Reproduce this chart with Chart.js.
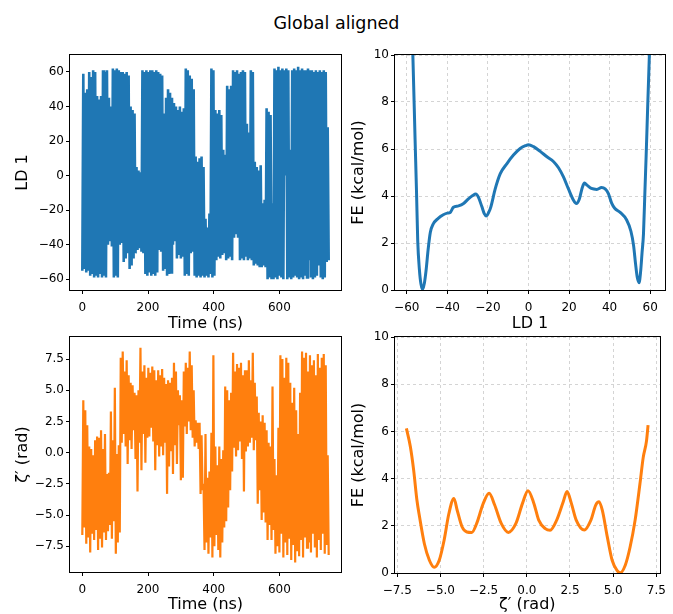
<!DOCTYPE html>
<html>
<head>
<meta charset="utf-8">
<title>Global aligned</title>
<script src="https://cdn.jsdelivr.net/npm/chart.js@4.4.1/dist/chart.umd.min.js"></script>
<style>
  body { margin: 0; background: #fff; }
  #fig { position: relative; width: 673px; height: 614px; overflow: hidden; background: #fff; }
  #title { position: absolute; left: 0; top: 13px; width: 673px; text-align: center;
           font: 17.5px 'DejaVu Sans', sans-serif; color: #000; }
  canvas { position: absolute; }
</style>
</head>
<body>
<div id="fig">
  <div id="title">Global aligned</div>
  <canvas id="ldTrace" width="345" height="300" style="left:0px;top:40px"></canvas>
  <canvas id="ldFe" width="333" height="300" style="left:340px;top:40px"></canvas>
  <canvas id="zetaTrace" width="345" height="294" style="left:0px;top:320px"></canvas>
  <canvas id="zetaFe" width="333" height="294" style="left:340px;top:320px"></canvas>
</div>
<script>
// sampling interval of the trajectories (ns)
var timeStep = 3;

// LD 1 along the trajectory, one value per frame
var ld1Trace = [
  -55, 59, -54, 48, -56, 50, -55, 60, -58, 57,
  -57, 61, -59, 60, -58, 46, -59, 44, -57, 46,
  -59, 61, -58, 60, -59, 61, -40, 45, -38, 40,
  -41, 62, -59, 61, -58, 62, -59, 61, -40, 60,
  -39, 60, -50, 59, -48, 60, -45, 58, -54, 40,
  -52, 38, -48, 36, -45, 5, -43, 3, -42, 2,
  -44, 61, -45, 60, -57, 61, -58, 60, -56, 61,
  -58, 61, -57, 60, -58, 61, -56, 60, -43, 59,
  -44, 58, -55, 36, -54, 45, -58, 50, -57, 48,
  -56, 45, -40, 42, -38, 40, -48, 38, -46, 40,
  -48, 37, -47, 39, -58, 62, -57, 61, -58, 58,
  -45, 56, -44, 50, -58, 11, -59, 8, -58, 10,
  -59, 11, -58, 5, -59, -25, -58, -30, -59, -22,
  -57, 62, -59, 61, -58, 38, -49, 36, -47, 38,
  -48, 35, -46, 15, -45, 12, -49, 52, -48, 50,
  -47, 52, -49, 61, -36, 60, -34, 61, -36, 59,
  -49, 60, -48, 61, -49, 60, -47, 30, -49, 25,
  -48, 61, -49, 60, -52, 8, -51, 5, -52, 3,
  -53, 6, -53, -16, -52, -14, -53, 39, -60, 37,
  -59, 35, -60, -16, -60, 62, -59, 61, -60, 63,
  -58, 61, -59, 62, -60, 61, 0, 62, -60, 61,
  -59, 15, -60, 61, -59, 62, -58, 61, -59, 63,
  -60, 61, -59, 62, -60, 61, -58, 61, -59, 62,
  -49, 61, -59, 61, -60, 60, -59, 61, -58, 60,
  -52, 61, -59, 60, -60, 61, -59, 60, -50, 28,
  -49
];

// zeta' along the trajectory (rad), same frames
var zetaTrace = [
  -6.6, 4.2, -6.0, 3.4, -7.3, 2.2, -6.8, 0.5, -8.0, 0.3,
  -6.5, -0.2, -7.0, 1.0, -6.2, 1.3, -7.8, 1.2, -6.9, 1.8,
  -7.6, 0.3, -6.4, 1.5, -7.0, -1.7, -6.3, -1.6, -5.8, 3.3,
  -6.9, 1.0, -5.5, 5.2, -8.1, -0.1, -7.2, 0.6, -6.4, 7.6,
  0.8, 8.1, 1.5, 6.5, 0.5, 7.4, -0.9, 6.2, 1.0, 5.6,
  0.3, 5.4, 1.8, 4.8, -0.5, 4.6, -3.1, 5.0, 0.8, 8.4,
  -1.4, 6.5, 1.5, 7.0, -0.8, 6.0, 1.2, 6.8, 1.3, 6.4,
  2.0, 6.9, 0.9, 6.6, -1.4, 5.8, 0.6, 6.6, -0.3, 6.2,
  0.5, 6.7, -0.2, 6.0, 0.8, 5.5, -3.3, 5.8, -1.1, 5.6,
  0.2, 6.0, -1.7, 7.2, 0.6, 6.5, -0.9, 5.0, 2.2, 4.6,
  -2.2, 4.2, -2.0, 6.5, 2.1, 7.2, 1.5, 6.8, 2.5, 8.1,
  1.8, 7.0, 1.2, 5.0, 0.5, 2.6, 0.8, 2.4, 0.3, 2.4,
  -3.3, 1.4, -3.0, -2.5, -7.8, 1.5, -7.2, -2.0, -8.1, -1.5,
  -6.8, 1.6, -8.4, 7.8, -7.5, 0.5, -6.6, -1.0, -7.8, 0.5,
  -8.4, -0.5, -7.2, 0.2, -6.0, 5.3, -5.5, 5.0, -4.4, 4.2,
  -3.0, 4.8, -1.5, 8.0, 0.4, 6.5, -0.3, 7.1, 0.2, 6.8,
  0.9, 7.2, -0.5, 6.2, -3.1, 6.6, 0.1, 6.6, 0.5, 7.4,
  0.8, 5.8, 1.2, 8.0, 0.2, 5.6, 1.0, 4.5, -4.1, 3.2,
  -3.0, 2.5, -5.4, 3.0, -4.8, 2.4, -5.6, 1.8, -7.0, 0.8,
  -5.8, 0.5, -7.0, 5.3, -6.2, -0.5, -8.1, -1.8, -7.5, 2.0,
  -8.0, 7.8, -6.5, 7.5, -8.4, 6.0, -7.2, 7.6, -8.2, 7.2,
  -6.9, 5.6, -8.6, 4.0, -7.4, 5.2, -8.8, 3.4, -7.9, 1.5,
  -8.3, 4.8, -7.0, 8.1, -8.4, 7.6, -6.8, 8.0, -7.6, 6.5,
  -7.2, 7.8, -8.0, 7.0, -6.5, 7.4, -7.6, 6.2, -8.4, 7.9,
  -7.0, 6.8, -7.8, 7.6, -6.5, 7.9, -8.1, 7.0, -7.4, -0.2,
  -8.2
];

// free energy profile along LD 1 (kcal/mol)
var feLdX = [-57.8, -57.0, -55.9, -55.2, -54.6, -53.8, -53.0, -52.2, -51.3, -50.4,
  -49.5, -48.4, -47.0, -44.5, -42.0, -40.0, -38.6, -37.0, -34.5, -32.0,
  -29.6, -27.5, -26.0, -24.7, -23.0, -21.8, -20.8, -19.6, -18.5, -16.4,
  -13.9, -10.6, -7.4, -4.1, -1.5, 0.0, 2.5, 5.8, 9.1, 12.4,
  14.8, 17.3, 19.7, 22.2, 23.6, 25.0, 26.5, 27.6, 29.0, 31.0,
  33.7, 36.0, 37.8, 39.4, 41.0, 42.5, 45.2, 48.4, 50.5, 51.8,
  52.8, 53.6, 54.5, 55.3, 56.0, 56.7, 57.4, 58.0, 58.8, 59.6, 60.4];
var feLdY = [12.0, 10.0, 6.4, 4.2, 2.1, 0.9, 0.25, 0.03, 0.3, 0.9,
  1.7, 2.45, 2.8, 3.05, 3.2, 3.27, 3.3, 3.52, 3.58, 3.68,
  3.88, 4.02, 4.08, 3.95, 3.55, 3.25, 3.15, 3.3, 3.55, 4.3,
  4.95, 5.38, 5.74, 6.02, 6.14, 6.18, 6.1, 5.9, 5.67, 5.46,
  5.2, 4.8, 4.3, 3.82, 3.68, 3.85, 4.35, 4.55, 4.45, 4.32,
  4.28, 4.36, 4.3, 4.1, 3.7, 3.48, 3.3, 2.98, 2.5, 1.9,
  1.1, 0.55, 0.31, 0.8, 1.6, 2.4, 4.2, 5.7, 7.9, 10.0, 12.2];

// free energy profile along zeta' (kcal/mol)
var feZetaX = [-6.97, -6.74, -6.55, -6.36, -6.21, -5.93, -5.64, -5.36, -5.07, -4.79,
  -4.51, -4.22, -4.03, -3.75, -3.47, -3.18, -2.9, -2.52, -2.18, -1.86,
  -1.48, -1.07, -0.63, -0.25, 0.07, 0.41, 0.69, 1.07, 1.35, 1.73,
  2.11, 2.33, 2.58, 2.86, 3.33, 3.71, 3.99, 4.18, 4.37, 4.66,
  4.94, 5.22, 5.41, 5.7, 5.98, 6.27, 6.55, 6.74, 6.93, 7.02];
var feZetaY = [6.13, 5.35, 4.36, 3.08, 2.38, 1.24, 0.54, 0.24, 0.54, 1.38,
  2.52, 3.16, 2.66, 1.96, 1.74, 1.72, 2.10, 2.95, 3.38, 2.88,
  2.10, 1.72, 2.10, 2.95, 3.49, 2.95, 2.24, 1.88, 1.81, 2.24,
  3.02, 3.45, 2.95, 2.24, 1.82, 2.24, 2.88, 3.02, 2.66, 1.53,
  0.54, 0.11, 0.01, 0.33, 1.1, 2.24, 3.78, 4.9, 5.6, 6.27];

// tick positions
var timeTicks = [0, 200, 400, 600];
var ldTicks = [-60, -40, -20, 0, 20, 40, 60];
var zetaTicks = [-7.5, -5.0, -2.5, 0.0, 2.5, 5.0, 7.5];
var feTicks = [0, 2, 4, 6, 8, 10];

var FONT = "'DejaVu Sans', sans-serif";
var blue = '#1f77b4';
var orange = '#ff7f0e';

function minus(s) { return String(s).replace('-', '\u2212'); }
function fmtInt(v) { return minus(v); }
function fmtOne(v) { return minus(v.toFixed(1)); }

// box frame round the plotting area
var frame = {
  id: 'frame',
  afterDatasetsDraw: function (chart) {
    var a = chart.chartArea, ctx = chart.ctx;
    ctx.save();
    ctx.strokeStyle = '#000';
    ctx.lineWidth = 1;
    ctx.strokeRect(Math.round(a.left) - 0.5, Math.round(a.top) - 0.5,
      Math.round(a.right - a.left) + 1, Math.round(a.bottom - a.top) + 1);
    ctx.restore();
  }
};

function axis(o) {
  var left = o.pos === 'left';
  return {
    type: 'linear',
    position: o.pos,
    min: o.min,
    max: o.max,
    afterBuildTicks: function (s) { s.ticks = o.ticks.map(function (v) { return { value: v }; }); },
    afterFit: function (s) { if (left) s.width = o.size; else s.height = o.size; },
    ticks: {
      callback: o.fmt,
      font: { family: FONT, size: 12 },
      color: '#000',
      padding: left ? 2 : 7,
      autoSkip: false,
      maxRotation: 0
    },
    grid: {
      display: true,
      drawOnChartArea: !!o.grid,
      color: 'rgba(176,176,176,0.55)',
      lineWidth: 1,
      tickColor: '#000',
      tickLength: 4,
      tickWidth: 1
    },
    border: { display: false, dash: o.grid ? [3, 3] : [] },
    title: {
      display: true,
      text: o.label,
      font: { family: FONT, size: 16 },
      color: '#000',
      padding: left ? { top: o.titlePad, bottom: 0 } : { top: 0, bottom: o.titlePad }
    }
  };
}

function makeChart(id, points, color, width, smooth, pad, xAxis, yAxis) {
  return new Chart(document.getElementById(id), {
    type: 'line',
    data: {
      datasets: [{
        data: points,
        borderColor: color,
        borderWidth: width,
        pointRadius: 0,
        fill: false,
        tension: smooth ? 0.4 : 0,
        cubicInterpolationMode: smooth ? 'monotone' : 'default'
      }]
    },
    options: {
      responsive: false,
      animation: false,
      devicePixelRatio: 1,
      layout: { padding: pad },
      plugins: { legend: { display: false }, tooltip: { enabled: false } },
      scales: { x: xAxis, y: yAxis }
    },
    plugins: [frame]
  });
}

function tracePoints(values) {
  return values.map(function (v, i) { return { x: i * timeStep, y: v }; });
}
function profilePoints(xs, ys) {
  return xs.map(function (x, i) { return { x: x, y: ys[i] }; });
}

makeChart('ldTrace', tracePoints(ld1Trace), blue, 2.6, false,
  { left: 0, top: 15, right: 4, bottom: 0 },
  axis({ pos: 'bottom', min: -37.5, max: 787.5, ticks: timeTicks, fmt: fmtInt, size: 50, label: 'Time (ns)', titlePad: 7 }),
  axis({ pos: 'left', min: -66.2, max: 69.8, ticks: ldTicks, fmt: fmtInt, size: 70, label: 'LD 1', titlePad: 13 }));

makeChart('ldFe', profilePoints(feLdX, feLdY), blue, 3, true,
  { left: 0, top: 15, right: 8, bottom: 0 },
  axis({ pos: 'bottom', min: -65.8, max: 67.3, ticks: ldTicks, fmt: fmtInt, size: 50, label: 'LD 1', titlePad: 7, grid: true }),
  axis({ pos: 'left', min: 0, max: 10, ticks: feTicks, fmt: fmtInt, size: 55, label: 'FE (kcal/mol)', titlePad: 9, grid: true }));

makeChart('zetaTrace', tracePoints(zetaTrace), orange, 2.2, false,
  { left: 0, top: 17, right: 4, bottom: 0 },
  axis({ pos: 'bottom', min: -37.5, max: 787.5, ticks: timeTicks, fmt: fmtInt, size: 42, label: 'Time (ns)', titlePad: 0 }),
  axis({ pos: 'left', min: -9.56, max: 9.27, ticks: zetaTicks, fmt: fmtOne, size: 70, label: '\u03b6\u2032 (rad)', titlePad: 13 }));

makeChart('zetaFe', profilePoints(feZetaX, feZetaY), orange, 3, true,
  { left: 0, top: 17, right: 8, bottom: 0 },
  axis({ pos: 'bottom', min: -7.63, max: 7.69, ticks: zetaTicks, fmt: fmtOne, size: 41, label: '\u03b6\u2032 (rad)', titlePad: 0, grid: true }),
  axis({ pos: 'left', min: 0, max: 10, ticks: feTicks, fmt: fmtInt, size: 55, label: 'FE (kcal/mol)', titlePad: 9, grid: true }));
</script>
</body>
</html>
